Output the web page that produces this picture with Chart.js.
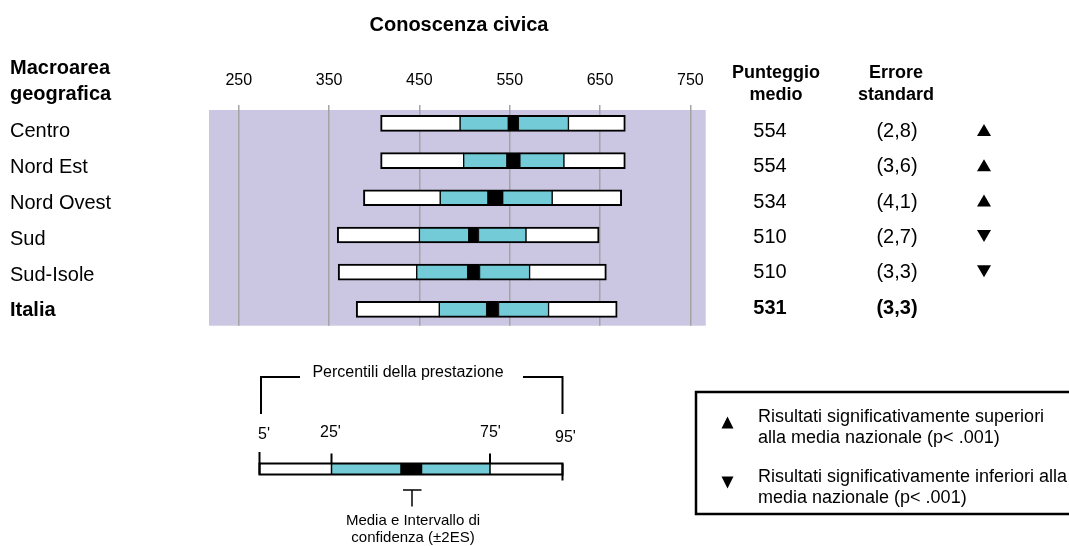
<!DOCTYPE html>
<html>
<head>
<meta charset="utf-8">
<title>Conoscenza civica</title>
<script src="https://cdn.jsdelivr.net/npm/chart.js@4.4.1/dist/chart.umd.min.js"></script>
<style>
  html, body { margin: 0; padding: 0; background: #ffffff; }
  #wrap { width: 1069px; height: 546px; position: relative; }
</style>
</head>
<body>
<div id="wrap"><canvas id="chart" width="1069" height="546"></canvas></div>
<script>
// Punteggi per macroarea: percentili, media ed errore standard
const regions    = ['Centro', 'Nord Est', 'Nord Ovest', 'Sud', 'Sud-Isole', 'Italia'];
const p5         = [407, 407, 388, 359, 360, 380];
const p25        = [495, 499, 473, 450, 447, 472];
const p75        = [615, 610, 597, 568, 572, 593];
const p95        = [678, 678, 674, 649, 657, 669];
const meanScore  = [554, 554, 534, 510, 510, 531];
const stdErr     = [2.8, 3.6, 4.1, 2.7, 3.3, 3.3];
const signif     = ['up', 'up', 'up', 'down', 'down', ''];
const xTickVals  = [250, 350, 450, 550, 650, 750];

const FONT = "'Liberation Sans', Arial, Helvetica, sans-serif";
const CYAN = '#72cbd7';
const LAVENDER = '#cbc7e3';

// intervallo di confidenza: media ± 2 ES
const ciLow  = meanScore.map((m, i) => m - 2 * stdErr[i]);
const ciHigh = meanScore.map((m, i) => m + 2 * stdErr[i]);

function segment(from, to) {
  return regions.map((r, i) => ({ x: [from[i], to[i]], y: i }));
}

const edge = (l, r) => ({ top: 2, bottom: 2, left: l, right: r });

const datasets = [
  { label: '5-25',   data: segment(p5, p25),       backgroundColor: '#ffffff', borderWidth: edge(2, 1) },
  { label: '25-CI',  data: segment(p25, ciLow),    backgroundColor: CYAN,      borderWidth: edge(1, 1) },
  { label: 'CI',     data: segment(ciLow, ciHigh), backgroundColor: '#000000', borderWidth: edge(1, 1) },
  { label: 'CI-75',  data: segment(ciHigh, p75),   backgroundColor: CYAN,      borderWidth: edge(1, 1) },
  { label: '75-95',  data: segment(p75, p95),      backgroundColor: '#ffffff', borderWidth: edge(1, 2) }
].map(d => Object.assign(d, {
  borderColor: '#000000',
  borderSkipped: false,
  grouped: false,
  barThickness: 16
}));

function txt(ctx, s, x, y, size, bold, align) {
  ctx.font = (bold ? 'bold ' : '') + size + 'px ' + FONT;
  ctx.textAlign = align || 'left';
  ctx.textBaseline = 'alphabetic';
  ctx.fillStyle = '#000000';
  ctx.fillText(s, x, y);
}

function tri(ctx, cx, cy, w, h, up) {
  ctx.beginPath();
  if (up) {
    ctx.moveTo(cx - w / 2, cy + h / 2);
    ctx.lineTo(cx + w / 2, cy + h / 2);
    ctx.lineTo(cx, cy - h / 2);
  } else {
    ctx.moveTo(cx - w / 2, cy - h / 2);
    ctx.lineTo(cx + w / 2, cy - h / 2);
    ctx.lineTo(cx, cy + h / 2);
  }
  ctx.closePath();
  ctx.fillStyle = '#000000';
  ctx.fill();
}

function line(ctx, pts, w) {
  ctx.beginPath();
  ctx.moveTo(pts[0][0], pts[0][1]);
  for (let k = 1; k < pts.length; k++) ctx.lineTo(pts[k][0], pts[k][1]);
  ctx.lineWidth = w;
  ctx.strokeStyle = '#000000';
  ctx.stroke();
}

const plotBackground = {
  id: 'plotBackground',
  beforeDraw(chart) {
    const { ctx, chartArea: a } = chart;
    ctx.save();
    ctx.fillStyle = LAVENDER;
    ctx.fillRect(a.left, a.top, a.right - a.left, a.bottom - a.top);
    ctx.restore();
  }
};

const annotations = {
  id: 'annotations',
  afterDraw(chart) {
    const ctx = chart.ctx;
    ctx.save();

    // titolo e intestazioni
    txt(ctx, 'Conoscenza civica', 459, 31, 20, true, 'center');
    txt(ctx, 'Macroarea', 10, 74, 20, true);
    txt(ctx, 'geografica', 10, 100, 20, true);
    txt(ctx, 'Punteggio', 776, 78, 18, true, 'center');
    txt(ctx, 'medio', 776, 100, 18, true, 'center');
    txt(ctx, 'Errore', 896, 78, 18, true, 'center');
    txt(ctx, 'standard', 896, 100, 18, true, 'center');

    // etichette di riga e tabella dei punteggi
    regions.forEach((r, i) => {
      const last = i === regions.length - 1;
      txt(ctx, r, 10, 137.3 + i * 35.8, 20, last);
      const yb = 137 + i * 35.3;
      txt(ctx, String(meanScore[i]), 770, yb, 20, last, 'center');
      txt(ctx, '(' + stdErr[i].toFixed(1).replace('.', ',') + ')', 897, yb, 20, last, 'center');
      if (signif[i]) tri(ctx, 984, yb - 7, 14, 12, signif[i] === 'up');
    });

    // legenda dei percentili
    txt(ctx, 'Percentili della prestazione', 408, 377, 16, false, 'center');
    line(ctx, [[261, 414], [261, 377], [300, 377]], 2);
    line(ctx, [[523, 377], [562.5, 377], [562.5, 414]], 2);
    txt(ctx, "5'", 258, 439, 16);
    txt(ctx, "25'", 320, 437, 16);
    txt(ctx, "75'", 480, 437, 16);
    txt(ctx, "95'", 555, 442, 16);

    const by = 463.5, bh = 11;
    const seg = [[259.5, 331.5, '#ffffff'], [331.5, 401, CYAN], [401, 421.5, '#000000'], [421.5, 490, CYAN], [490, 562.5, '#ffffff']];
    seg.forEach(s => { ctx.fillStyle = s[2]; ctx.fillRect(s[0], by, s[1] - s[0], bh); });
    ctx.lineWidth = 2;
    ctx.strokeStyle = '#000000';
    ctx.strokeRect(259.5, by, 303, bh);
    [331.5, 401, 421.5, 490].forEach(x => line(ctx, [[x, by], [x, by + bh]], 1.5));
    line(ctx, [[259.5, 452], [259.5, by + bh]], 2);
    line(ctx, [[331.5, 453.5], [331.5, by]], 2);
    line(ctx, [[490, 453.5], [490, by]], 2);
    line(ctx, [[562.5, by], [562.5, 480.5]], 2);

    line(ctx, [[403, 490], [421.5, 490]], 1.5);
    line(ctx, [[412, 490], [412, 506.5]], 1.5);
    txt(ctx, 'Media e Intervallo di', 413, 525, 15, false, 'center');
    txt(ctx, 'confidenza (\u00b12ES)', 413, 542, 15, false, 'center');

    // legenda della significatività
    ctx.lineWidth = 2.5;
    ctx.strokeStyle = '#000000';
    ctx.strokeRect(696, 392, 400, 122);
    tri(ctx, 727.5, 422.5, 12, 12, true);
    tri(ctx, 727.5, 482.5, 12, 12, false);
    txt(ctx, 'Risultati significativamente superiori', 758, 422, 18);
    txt(ctx, 'alla media nazionale (p< .001)', 758, 442.5, 18);
    txt(ctx, 'Risultati significativamente inferiori alla', 758, 482, 18);
    txt(ctx, 'media nazionale (p< .001)', 758, 502.5, 18);

    ctx.restore();
  }
};

new Chart(document.getElementById('chart'), {
  type: 'bar',
  data: { datasets },
  options: {
    responsive: false,
    animation: false,
    indexAxis: 'y',
    layout: { padding: { left: 209, right: 363.3, top: 55.8, bottom: 220.3 } },
    plugins: {
      legend: { display: false },
      tooltip: { enabled: false },
      title: { display: false }
    },
    scales: {
      x: {
        type: 'linear',
        position: 'top',
        min: 217,
        max: 767,
        afterBuildTicks: s => { s.ticks = xTickVals.map(v => ({ value: v })); },
        grid: { color: '#a4a4a4', lineWidth: 1.5, drawTicks: true, tickLength: 5, tickColor: '#a4a4a4' },
        border: { display: false },
        ticks: { font: { family: FONT, size: 16 }, color: '#000000', padding: 15, maxRotation: 0 }
      },
      y: {
        type: 'linear',
        display: false,
        offset: false,
        reverse: true,
        min: -0.36,
        max: 5.44
      }
    }
  },
  plugins: [plotBackground, annotations]
});
</script>
</body>
</html>
